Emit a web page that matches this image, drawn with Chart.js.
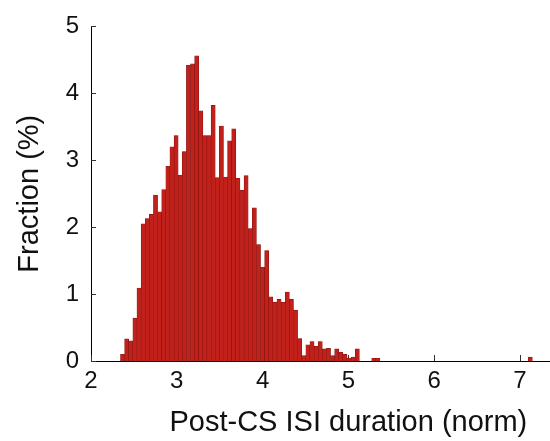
<!DOCTYPE html>
<html>
<head>
<meta charset="utf-8">
<title>Post-CS ISI duration histogram</title>
<script src="https://cdn.jsdelivr.net/npm/chart.js@4/dist/chart.umd.min.js"></script>
<style>
  html, body { margin: 0; padding: 0; background: #ffffff; overflow: hidden; }
  #wrap { width: 550px; height: 441px; }
</style>
</head>
<body>
<div id="wrap"><canvas id="hist" width="550" height="441"></canvas></div>
<script>
// Histogram of normalised post-CS ISI durations: 100 equal bins from the minimum value.
const binStart = 2.344;
const binWidth = 0.048;

// Fraction of intervals falling in each bin (%)
const fractionPct = [
  0.10, 0.33, 0.30, 0.64, 1.09, 2.05, 2.13, 2.19, 2.48, 2.23,
  2.56, 2.91, 3.20, 3.37, 2.78, 3.13, 4.42, 4.44, 4.56, 3.74,
  3.37, 3.37, 3.82, 2.74, 3.51, 2.75, 3.29, 3.47, 2.73, 2.55,
  2.77, 1.98, 2.29, 1.74, 1.40, 1.65, 0.96, 0.88, 0.92, 0.88,
  1.03, 0.92, 0.76, 0.335, 0.08, 0.24, 0.29, 0.22, 0.29, 0.18,
  0.19, 0.08, 0.18, 0.13, 0.10, 0.045, 0.06, 0.18, 0, 0,
  0, 0.04, 0.04, 0, 0, 0, 0, 0, 0, 0,
  0, 0, 0, 0, 0, 0, 0, 0, 0, 0,
  0, 0, 0, 0, 0, 0, 0, 0, 0, 0,
  0, 0, 0, 0, 0, 0, 0, 0, 0, 0.06
];

const xTickValues = [2, 3, 4, 5, 6, 7];
const yTickValues = [0, 1, 2, 3, 4, 5];
const xLabel = 'Post-CS ISI duration (norm)';
const yLabel = 'Fraction (%)';
const xLabelCentre = 5;   // the axis label sits centred under x = 5

// Bar centres built from the bin layout
const histPoints = fractionPct.map((v, i) => ({ x: binStart + (i + 0.5) * binWidth, y: v }));

const fontFamily = '"Liberation Sans", Arial, Helvetica, sans-serif';
Chart.defaults.font.family = fontFamily;
Chart.defaults.color = '#111111';

// Short tick marks pointing into the plot area, drawn under the bars
const inwardTicks = {
  id: 'inwardTicks',
  beforeDatasetsDraw(chart) {
    const { ctx, chartArea, scales } = chart;
    const xs = scales.x, ys = scales.y;
    ctx.save();
    ctx.strokeStyle = '#333333';
    ctx.lineWidth = 1;
    xs.ticks.forEach(t => {
      const px = Math.round(xs.getPixelForValue(t.value)) + 0.5;
      ctx.beginPath();
      ctx.moveTo(px, chartArea.bottom);
      ctx.lineTo(px, chartArea.bottom - 6);
      ctx.stroke();
    });
    ys.ticks.forEach(t => {
      const py = Math.round(ys.getPixelForValue(t.value)) + 0.5;
      ctx.beginPath();
      ctx.moveTo(chartArea.left, py);
      ctx.lineTo(chartArea.left + 5, py);
      ctx.stroke();
    });
    ctx.restore();
  }
};

// x-axis label, placed under the middle of the 2–8 range
const xAxisLabel = {
  id: 'xAxisLabel',
  afterDraw(chart) {
    const { ctx, scales } = chart;
    ctx.save();
    ctx.font = '29px ' + fontFamily;
    ctx.fillStyle = '#111111';
    ctx.textAlign = 'center';
    ctx.textBaseline = 'middle';
    ctx.fillText(xLabel, scales.x.getPixelForValue(xLabelCentre), 423);
    ctx.restore();
  }
};

new Chart(document.getElementById('hist'), {
  type: 'bar',
  data: {
    datasets: [{
      data: histPoints,
      backgroundColor: '#c2201a',
      borderColor: '#861510',
      borderWidth: 0.6,
      barPercentage: 1,
      categoryPercentage: 1,
      grouped: false
    }]
  },
  options: {
    responsive: false,
    animation: false,
    devicePixelRatio: 1,
    layout: { padding: { top: 22, right: 0, bottom: 0, left: 0 } },
    plugins: {
      legend: { display: false },
      tooltip: { enabled: false }
    },
    scales: {
      x: {
        type: 'linear',
        min: 2,
        max: 7.35,
        offset: false,
        grid: { display: false, drawTicks: false },
        border: { display: true, color: '#000000', width: 1 },
        afterBuildTicks: s => { s.ticks = xTickValues.map(v => ({ value: v })); },
        ticks: {
          padding: 6,
          font: { size: 24 },
          color: '#111111',
          maxRotation: 0,
          autoSkip: false,
          callback: v => String(v)
        },
        afterFit: s => { s.height = 80; }
      },
      y: {
        type: 'linear',
        min: 0,
        max: 5,
        grid: { display: false, drawTicks: false },
        border: { display: true, color: '#000000', width: 1 },
        afterBuildTicks: s => { s.ticks = yTickValues.map(v => ({ value: v })); },
        ticks: {
          padding: 12,
          font: { size: 24 },
          color: '#111111',
          callback: v => String(v)
        },
        title: {
          display: true,
          text: yLabel,
          font: { size: 29 },
          color: '#111111',
          padding: { top: 13, bottom: 0 }
        },
        afterFit: s => { s.width = 91; }
      }
    }
  },
  plugins: [inwardTicks, xAxisLabel]
});
</script>
</body>
</html>
